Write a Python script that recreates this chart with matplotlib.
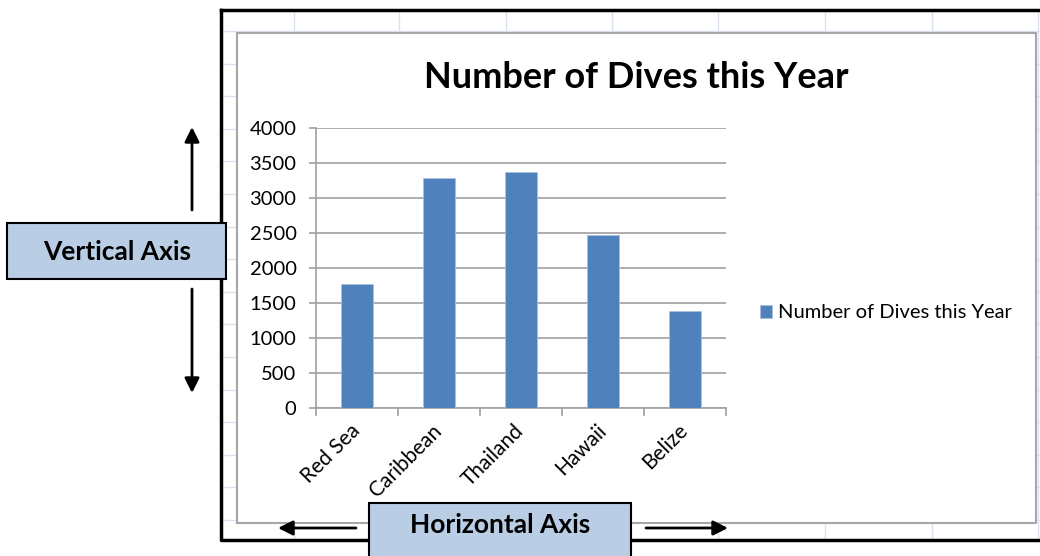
import matplotlib
matplotlib.use('Agg')
import numpy as np
import matplotlib.pyplot as plt
from matplotlib.patches import Rectangle, FancyArrowPatch

plt.rcParams['font.family'] = ['Lato', 'DejaVu Sans']

# Data
locations = ['Red Sea', 'Caribbean', 'Thailand', 'Hawaii', 'Belize']
dives = [1775, 3280, 3375, 2470, 1385]
y_ticks = [0, 500, 1000, 1500, 2000, 2500, 3000, 3500, 4000]
series_name = 'Number of Dives this Year'

W, H = 1040, 556
bar_color = '#4f81bd'
grid_gray = '#a0a0a0'
cell_line = '#dbe1ee'
box_color = '#b9cde5'

fig = plt.figure(figsize=(W / 100, H / 100), dpi=100)


def fx(x):
    return x / W


def fy(y):
    return 1 - y / H


def frect(x0, y0, x1, y1, **kw):
    # rectangle given in screen pixels (origin top-left)
    return Rectangle((fx(x0), fy(y1)), fx(x1) - fx(x0), fy(y0) - fy(y1),
                     transform=fig.transFigure, **kw)


# spreadsheet cell lines behind the chart
for r in np.arange(31, 540, 32.6):
    fig.add_artist(plt.Line2D([fx(221), fx(W)], [fy(r), fy(r)], color=cell_line, lw=1, zorder=0))
for c in [294, 399, 506, 612, 718, 825, 932, 1038]:
    fig.add_artist(plt.Line2D([fx(c), fx(c)], [fy(10), fy(540)], color=cell_line, lw=1, zorder=0))

# outer black frame
fig.add_artist(plt.Line2D([fx(221), fx(221), fx(W + 5)], [fy(10), fy(540), fy(540)],
                          color='black', lw=2.5, zorder=1))
fig.add_artist(plt.Line2D([fx(221), fx(W + 5)], [fy(10), fy(10)], color='black', lw=2.5, zorder=1))

# chart area
fig.add_artist(frect(237, 33, 1036, 523, facecolor='white', edgecolor='#a6a6a6', lw=1.5, zorder=0.5))

# plot area
ax = fig.add_axes([fx(316), fy(408), fx(726) - fx(316), fy(128) - fy(408)])
ax.set_zorder(2)
ax.set_facecolor('none')
positions = np.arange(len(locations))
ax.bar(positions, dives, 0.39, color=bar_color, edgecolor='#a9c1de', linewidth=0.6,
       label=series_name, zorder=3)

ax.set_xlim(-0.5, len(locations) - 0.5)
ax.set_ylim(0, 4000)
ax.set_yticks(y_ticks)
ax.set_yticklabels([str(v) for v in y_ticks])
ax.grid(axis='y', color=grid_gray, lw=1.2, zorder=0)
for s in ['top', 'right']:
    ax.spines[s].set_visible(False)
for s in ['left', 'bottom']:
    ax.spines[s].set_color(grid_gray)
    ax.spines[s].set_linewidth(1.2)

ax.set_xticks(np.arange(-0.5, len(locations)))
ax.set_xticklabels([])
ax.set_xticks(positions, minor=True)
ax.set_xticklabels(locations, minor=True, rotation=45, ha='right', va='center',
                   rotation_mode='anchor', fontsize=15)
ax.tick_params(axis='x', which='major', length=6, color=grid_gray, width=1.2)
ax.tick_params(axis='x', which='minor', length=0, pad=14)
ax.tick_params(axis='y', length=5, color=grid_gray, width=1.2, pad=9, labelsize=14.5)

fig.text(fx(636), fy(77), 'Number of Dives this Year', ha='center', va='center',
         fontsize=26, fontweight='bold')

leg = ax.legend(loc='center left', bbox_to_anchor=(fx(760), fy(313)), bbox_transform=fig.transFigure,
                frameon=False, fontsize=14.5, handlelength=0.6, handleheight=0.6,
                handletextpad=0.3, borderpad=0, borderaxespad=0)

# annotation boxes
fig.add_artist(frect(7, 223, 226, 279, facecolor=box_color, edgecolor='black', lw=1.5, zorder=5))
fig.text(fx(117), fy(252), 'Vertical Axis', ha='center', va='center', fontsize=19,
         fontweight='bold', zorder=6)
fig.add_artist(frect(369, 503, 631, 560, facecolor=box_color, edgecolor='black', lw=1.5, zorder=5))
fig.text(fx(500), fy(525), 'Horizontal Axis', ha='center', va='center', fontsize=19,
         fontweight='bold', zorder=6)

# arrows
for tail, tip in [((192, 210), (192, 127)), ((192, 289), (192, 393)),
                  ((356, 528), (278, 528)), ((646, 528), (728, 528))]:
    fig.add_artist(FancyArrowPatch((fx(tail[0]), fy(tail[1])), (fx(tip[0]), fy(tip[1])),
                                   transform=fig.transFigure, arrowstyle='-|>', color='black',
                                   lw=2, mutation_scale=22, shrinkA=0, shrinkB=0, zorder=6))

plt.savefig('out.png', dpi=100)
